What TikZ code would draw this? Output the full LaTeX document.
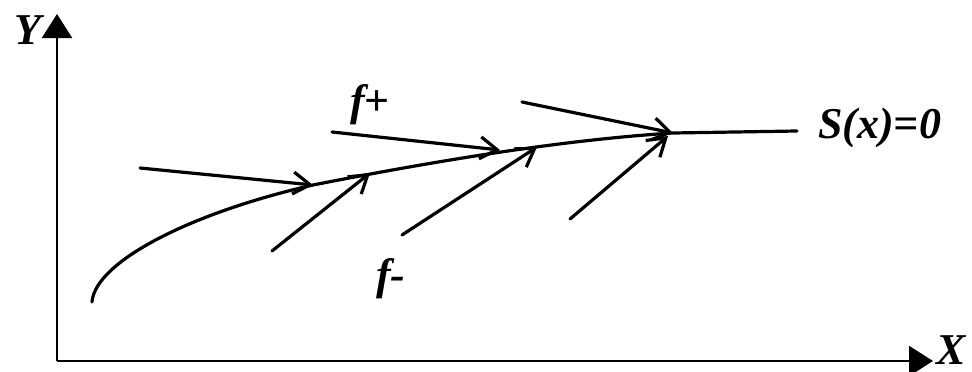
\documentclass[tikz,border=0pt]{standalone}
\usepackage{fontspec}
\setmainfont{Liberation Serif}
\usepackage{tikz}
\usetikzlibrary{arrows.meta, positioning, calc}

\begin{document}
\begin{tikzpicture}[
    x=1pt, y=-1pt,
    axis/.style={line width=2.2pt, -{Triangle[length=24pt,width=30pt]}},
    traj/.style={line width=3.2pt, line cap=round},
    fl/.style={line width=3.2pt, line cap=round, -{Straight Barb[length=17pt,width=22pt,line width=3.2pt]}},
    lbl/.style={font=\fontsize{44}{48}\selectfont\bfseries\itshape, inner sep=0pt}
]
\useasboundingbox (0,0) rectangle (972,372);

% Axes
\coordinate (o)  at (57,361);
\coordinate (ye) at (57,14);
\coordinate (xe) at (933,361);
\draw[axis] (o) -- (ye);
\draw[axis] (o) -- (xe);
\node[lbl, anchor=east] (ylab) at (42,30) {Y};
\node[lbl, anchor=west] (xlab) at (936,350) {X};

% Sliding surface
\coordinate (s0) at (92,302);
\coordinate (s1) at (313,185);
\coordinate (s2) at (673,133);
\coordinate (s3) at (797,131);
\draw[traj] (s0) .. controls (95,262) and (190,213) .. (s1)
            .. controls (430,162) and (560,140) .. (s2) -- (s3);
\node[lbl, anchor=west] (surf) at (818,128) {S(x)=0};

% f+ side
\coordinate (a1) at (140,168);
\coordinate (a2) at (332,132);
\coordinate (a3) at (522,102);
\coordinate (t2) at (500,150);
\draw[fl] (a1) -- (s1);
\draw[fl] (a2) -- (t2);
\draw[fl] (a3) -- (s2);
\node[lbl, anchor=south west] (fp) at (350,125) {f{\upshape+}};

% f- side
\coordinate (b1) at (272,251);
\coordinate (b2) at (402,235);
\coordinate (b3) at (570,219);
\coordinate (u1) at (370,173);
\coordinate (u2) at (537,147);
\coordinate (u3) at (668,136);
\draw[fl] (b1) -- (u1);
\draw[fl] (b2) -- (u2);
\draw[fl] (b3) -- (u3);
\node[lbl, anchor=north west] (fm) at (376,258) {f-};

\end{tikzpicture}
\end{document}
